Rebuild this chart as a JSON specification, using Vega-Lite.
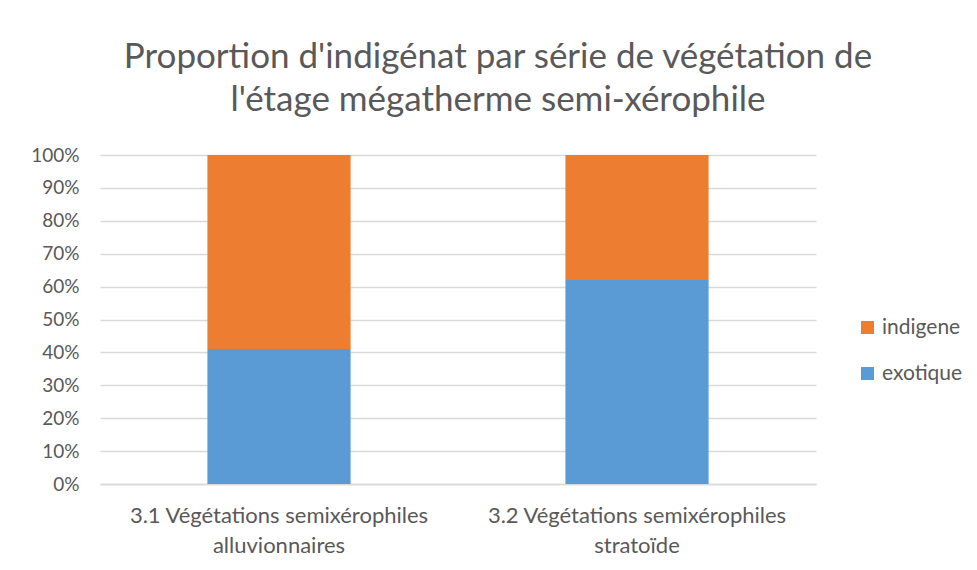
{
  "$schema": "https://vega.github.io/schema/vega-lite/v6.json",
  "autosize": "none",
  "width": 716,
  "height": 329,
  "padding": {"left": 100, "top": 155, "right": 161, "bottom": 86},
  "background": "white",
  "title": {
    "text": ["Proportion d'indigénat par série de végétation de", "l'étage mégatherme semi-xérophile"],
    "font": "Lato",
    "fontSize": 35,
    "fontWeight": "normal",
    "color": "#595959",
    "lineHeight": 43,
    "anchor": "middle",
    "frame": "group",
    "dx": 40,
    "offset": 28
  },
  "data": {
    "values": [
      {"serie": "3.1 Végétations semixérophiles alluvionnaires", "type": "exotique", "value": 0.41},
      {"serie": "3.1 Végétations semixérophiles alluvionnaires", "type": "indigene", "value": 0.59},
      {"serie": "3.2 Végétations semixérophiles stratoïde", "type": "exotique", "value": 0.62},
      {"serie": "3.2 Végétations semixérophiles stratoïde", "type": "indigene", "value": 0.38}
    ]
  },
  "mark": {"type": "bar"},
  "encoding": {
    "x": {
      "field": "serie",
      "type": "nominal",
      "title": null,
      "scale": {"paddingInner": 0.6, "paddingOuter": 0.3},
      "axis": {
        "labelAngle": 0,
        "labelExpr": "[substring(datum.label,0,30), substring(datum.label,31)]",
        "labelFont": "Lato",
        "labelFontSize": 22,
        "labelColor": "#595959",
        "labelLineHeight": 30,
        "labelPadding": 21,
        "labelLimit": 0,
        "ticks": false,
        "domainColor": "#d9d9d9",
        "domainWidth": 1.5,
        "grid": false
      }
    },
    "y": {
      "field": "value",
      "type": "quantitative",
      "stack": "zero",
      "title": null,
      "scale": {"domain": [0, 1], "nice": false},
      "axis": {
        "values": [0, 0.1, 0.2, 0.3, 0.4, 0.5, 0.6, 0.7, 0.8, 0.9, 1],
        "format": ".0%",
        "labelFont": "Lato",
        "labelFontSize": 19,
        "labelColor": "#595959",
        "labelPadding": 21,
        "ticks": false,
        "domain": false,
        "gridColor": "#d9d9d9",
        "gridWidth": 1.5
      }
    },
    "color": {
      "field": "type",
      "type": "nominal",
      "scale": {"domain": ["indigene", "exotique"], "range": ["#ED7D31", "#5B9BD5"]},
      "legend": {
        "title": null,
        "orient": "none",
        "legendX": 757,
        "legendY": 162,
        "symbolType": "square",
        "symbolSize": 169,
        "symbolStrokeWidth": 0,
        "labelFont": "Lato",
        "labelFontSize": 21,
        "labelColor": "#595959",
        "rowPadding": 24,
        "labelOffset": 4
      }
    },
    "order": {"field": "type", "sort": "ascending"}
  },
  "config": {"view": {"stroke": null}}
}
